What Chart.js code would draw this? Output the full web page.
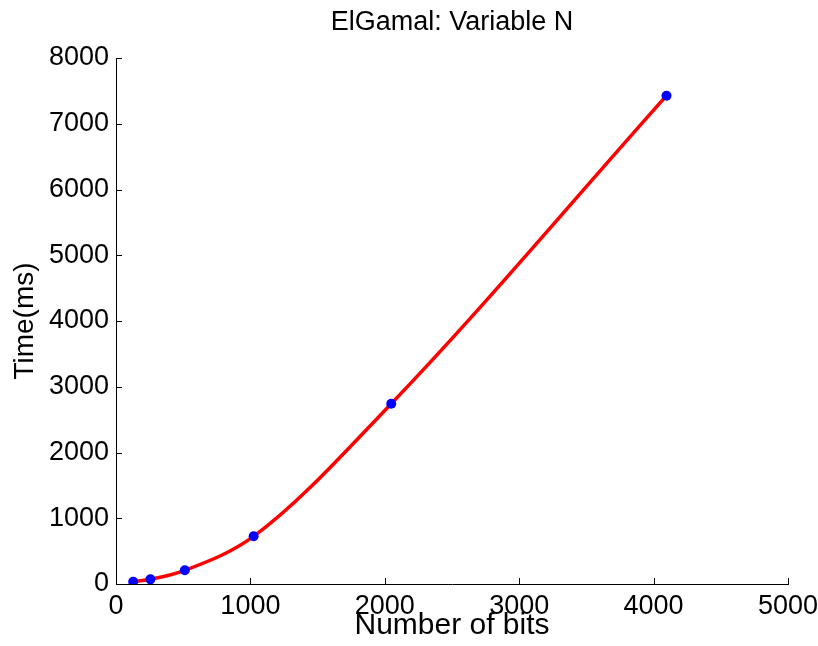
<!DOCTYPE html>
<html>
<head>
<meta charset="utf-8">
<script src="https://cdn.jsdelivr.net/npm/chart.js@4/dist/chart.umd.min.js"></script>
<style>
html,body{margin:0;padding:0;background:#fff;}
#wrap{width:818px;height:646px;position:relative;}
</style>
</head>
<body>
<div id="wrap"><canvas id="c" width="818" height="646"></canvas></div>
<script>
const bits = [128, 256, 512, 1024, 2048, 4096];
const timeMs = [35, 71, 208, 725, 2742, 7427];
const xTicks = [0, 1000, 2000, 3000, 4000, 5000];
const yTicks = [0, 1000, 2000, 3000, 4000, 5000, 6000, 7000, 8000];

const points = bits.map((b, i) => ({x: b, y: timeMs[i]}));
const FONT = "'Liberation Sans', Arial, Helvetica, sans-serif";

const innerTicks = {
  id: 'innerTicks',
  afterDraw(chart) {
    const ctx = chart.ctx, a = chart.chartArea;
    const xs = chart.scales.x, ys = chart.scales.y;
    ctx.save();
    ctx.strokeStyle = '#000';
    ctx.lineWidth = 1;
    ctx.beginPath();
    xTicks.forEach(v => {
      const px = Math.round(xs.getPixelForValue(v)) + 0.5;
      ctx.moveTo(px, a.bottom); ctx.lineTo(px, a.bottom - 6);
    });
    yTicks.forEach(v => {
      const py = Math.round(ys.getPixelForValue(v)) + 0.5;
      ctx.moveTo(a.left, py); ctx.lineTo(a.left + 6, py);
    });
    ctx.stroke();
    ctx.restore();
  }
};

new Chart(document.getElementById('c'), {
  type: 'scatter',
  data: {
    datasets: [
      {
        data: points,
        showLine: true,
        borderColor: '#ff0000',
        borderWidth: 3.5,
        cubicInterpolationMode: 'monotone',
        pointRadius: 0,
        pointHoverRadius: 0,
        order: 2
      },
      {
        data: points,
        showLine: false,
        pointRadius: 5,
        pointBackgroundColor: '#0000ff',
        pointBorderColor: '#0000ff',
        pointBorderWidth: 0,
        order: 1
      }
    ]
  },
  options: {
    responsive: false,
    animation: false,
    events: [],
    layout: {padding: {left: 8, right: 0, top: 0, bottom: 2}},
    plugins: {
      legend: {display: false},
      tooltip: {enabled: false},
      title: {
        display: true,
        fullSize: false,
        text: 'ElGamal: Variable N',
        color: '#000',
        font: {family: FONT, size: 27, weight: 'normal'},
        padding: {top: 6, bottom: 19.6}
      }
    },
    scales: {
      x: {
        type: 'linear',
        min: 0, max: 5000,
        afterBuildTicks: s => { s.ticks = xTicks.map(v => ({value: v})); },
        ticks: {color: '#000', font: {family: FONT, size: 27}, padding: 6, maxRotation: 0,
                callback: v => String(v)},
        grid: {display: true, drawOnChartArea: false, drawTicks: false},
        border: {display: true, color: '#000', width: 1},
        title: {display: true, text: 'Number of bits', color: '#000', font: {family: FONT, size: 30}, padding: {top: -9, bottom: 0}},
        afterFit: s => { s.height = 646 - 584 - 2; s.paddingRight = 30; s.paddingLeft = 0; }
      },
      y: {
        type: 'linear',
        min: 0, max: 8000,
        afterBuildTicks: s => { s.ticks = yTicks.map(v => ({value: v})); },
        ticks: {color: '#000', font: {family: FONT, size: 27}, padding: 7,
                callback: v => String(v)},
        grid: {display: true, drawOnChartArea: false, drawTicks: false},
        border: {display: true, color: '#000', width: 1},
        title: {display: true, text: 'Time(ms)', color: '#000', font: {family: FONT, size: 28}, padding: {top: 0, bottom: 0}},
        afterFit: s => { s.width = 116 - 8; s.paddingTop = 0; s.paddingBottom = 0; }
      }
    }
  },
  plugins: [innerTicks]
});
</script>
</body>
</html>
